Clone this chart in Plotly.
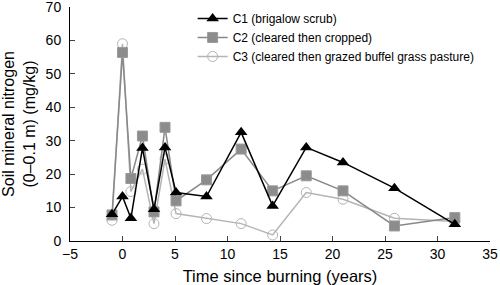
import plotly.graph_objects as go

years = [-1, 0, 0.8, 1.9, 3.0, 4.05, 5.1, 8.0, 11.3, 14.3, 17.5, 21.0, 25.9, 31.65]
c1 = [8, 13.3, 6.8, 27.8, 9.5, 28, 14.5, 13.3, 32.5, 10.5, 28, 23.5, 15.8, 5]
c2 = [7.8, 56.4, 18.7, 31.4, 8.7, 34, 12, 18.3, 27.5, 15, 19.5, 15, 4.5, 7]
c3 = [6.2, 59, 14.8, 21.5, 5.2, 24.5, 8.2, 6.7, 5.2, 1.8, 14.5, 12.5, 6.8, 5.8]
names = ["C1 (brigalow scrub)", "C2 (cleared then cropped)",
         "C3 (cleared then grazed buffel grass pasture)"]
x_ticks = [-5, 0, 5, 10, 15, 20, 25, 30, 35]
y_ticks = [0, 10, 20, 30, 40, 50, 60, 70]

fig = go.Figure()
fig.add_trace(go.Scatter(x=years, y=c3, name=names[2], mode="lines+markers", legendgroup="c3",
                         line=dict(color="#b4b4b4", width=1.5),
                         marker=dict(symbol="circle-open", size=10, color="#b4b4b4", line=dict(width=1))))
fig.add_trace(go.Scatter(x=years, y=c2, name=names[1], mode="lines+markers", legendgroup="c2",
                         line=dict(color="#888888", width=1.5),
                         marker=dict(symbol="square", size=10, color="#8c8c8c",
                                     line=dict(color="#9a9a9a", width=1))))
fig.add_trace(go.Scatter(x=years, y=c1, name=names[0], mode="lines+markers", legendgroup="c1",
                         line=dict(color="#000000", width=1.5),
                         marker=dict(symbol="triangle-up", size=11, color="#000000")))

fig.update_layout(
    width=500, height=285,
    margin=dict(l=70, r=10, t=7, b=44, autoexpand=False),
    plot_bgcolor="white", paper_bgcolor="white",
    font=dict(family="Liberation Sans, Arial, sans-serif", size=13, color="black"),
    showlegend=True,
    legend=dict(x=0.292, y=1.013, xanchor="left", yanchor="top", traceorder="reversed",
                bgcolor="rgba(0,0,0,0)", font=dict(size=12), tracegroupgap=5),
    xaxis=dict(range=[-5, 35], tickvals=x_ticks, ticks="inside", ticklen=5,
               showline=True, linecolor="black", linewidth=1, showgrid=False, zeroline=False,
               automargin=False, ticklabeloverflow="allow",
               title=dict(text="Time since burning (years)", font=dict(size=16.5), standoff=9),
               tickfont=dict(size=14)),
    yaxis=dict(range=[0, 70], tickvals=y_ticks, ticks="inside", ticklen=5,
               showline=True, linecolor="black", linewidth=1, showgrid=False, zeroline=False,
               automargin=False, ticklabeloverflow="allow", ticklabelstandoff=5,
               title=dict(text="Soil mineral nitrogen<br>(0–0.1 m) (mg/kg)", font=dict(size=16), standoff=11),
               tickfont=dict(size=14)),
)
fig.write_html("out.html", config={"displayModeBar": False},
               post_script="document.body.style.margin='0';document.body.style.padding='0';")
